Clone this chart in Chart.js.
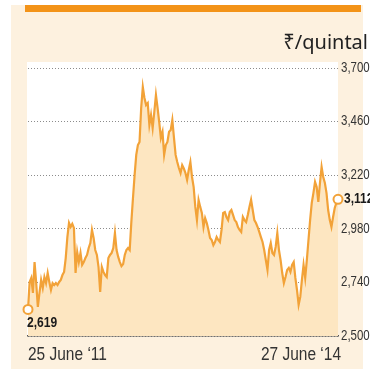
<!DOCTYPE html>
<html>
<head>
<meta charset="utf-8">
<script src="https://cdn.jsdelivr.net/npm/chart.js@4"></script>
<style>
  html, body { margin: 0; padding: 0; background: #fff; }
  #wrap { width: 370px; height: 369px; }
</style>
</head>
<body>
<div id="wrap"><canvas id="priceChart" width="370" height="369"></canvas></div>
<script>
// weekly price, Rs per quintal
const prices = [
  2619, 2742, 2760, 2693, 2831, 2737, 2630, 2693, 2751, 2715,
  2764, 2737, 2782, 2742, 2706, 2737, 2728, 2737, 2728, 2742,
  2751, 2773, 2787, 2849, 2943, 3006, 2988, 3002, 2984, 2782,
  2876, 2831, 2872, 2818, 2831, 2849, 2863, 2894, 2916, 2975,
  2939, 2885, 2863, 2809, 2697, 2809, 2787, 2773, 2764, 2849,
  2863, 2872, 2894, 2961, 2885, 2854, 2831, 2813, 2822, 2863,
  2885, 2894, 2885, 3010, 3118, 3221, 3311, 3355, 3369, 3521,
  3615, 3566, 3534, 3543, 3445, 3490, 3431, 3503, 3579, 3521,
  3458, 3387, 3414, 3311, 3355, 3369, 3414, 3422, 3467, 3387,
  3311, 3279, 3252, 3230, 3265, 3250, 3230, 3199, 3243, 3279,
  3212, 3167, 3078, 3019, 3109, 3078, 3051, 2988, 3028, 3006,
  2975, 2939, 2930, 2907, 2921, 2943, 2930, 2921, 2975, 3051,
  3055, 3033, 3019, 3055, 3064, 3042, 3019, 3010, 2988, 2975,
  2966, 3033, 3019, 3010, 3042, 3078, 3110, 3064, 3019, 3006,
  2988, 2966, 2943, 2921, 2885, 2840, 2796, 2885, 2916, 2872,
  2863, 2899, 2961, 2885, 2840, 2782, 2737, 2764, 2796, 2805,
  2787, 2818, 2831, 2760, 2706, 2640, 2675, 2751, 2818, 2760,
  2840, 2930, 3019, 3096, 3140, 3190, 3167, 3100, 3185, 3257,
  3212, 3185, 3140, 3064, 3019, 2988, 3033, 3073, 3096, 3112
];
const weeks = prices.map((p, i) => i);
const dateLabels = ['25 June \u201811', '27 June \u201814'];
const yTicks = [2500, 2740, 2980, 3220, 3460, 3700];
const unitLabel = '\u20b9/quintal';

const ORANGE = '#f2a238';
const SANS = "'Liberation Sans', Arial, sans-serif";

// no condensed face installed, so squeeze the text a bit
function narrowText(c, txt, x, y, font, squeeze, align) {
  c.save();
  c.font = font;
  c.textAlign = align;
  c.translate(x, y);
  c.scale(squeeze, 1);
  c.fillText(txt, 0, 0);
  c.restore();
}

// cream panel, orange strip, white plot box, then texts on top
const decor = {
  id: 'decor',
  beforeDraw(chart) {
    const c = chart.ctx, a = chart.chartArea;
    c.save();
    c.fillStyle = '#fdf1df';
    c.fillRect(11, 5, 352, 364);
    c.fillStyle = '#f39318';
    c.fillRect(25, 5, 336, 7);
    c.fillStyle = '#ffffff';
    c.fillRect(a.left - 1, 62, a.right - a.left + 1, a.bottom - 62);
    c.restore();
  },
  afterDraw(chart) {
    const c = chart.ctx, a = chart.chartArea;
    const x = chart.scales.x, y = chart.scales.y;
    const last = prices.length - 1;
    c.save();
    c.fillStyle = '#222';
    c.font = "20px 'Noto Sans', sans-serif";
    c.textAlign = 'right';
    c.textBaseline = 'alphabetic';
    c.fillText(unitLabel, 368, 49);

    c.textBaseline = 'middle';
    c.fillStyle = '#333';
    yTicks.forEach(v => {
      narrowText(c, v.toLocaleString('en-US'), a.right + 3, y.getPixelForValue(v), '14px ' + SANS, 0.82, 'left');
    });

    c.textBaseline = 'alphabetic';
    narrowText(c, dateLabels[0], a.left, 360, '18px ' + SANS, 0.86, 'left');
    narrowText(c, dateLabels[1], a.right + 3, 360, '18px ' + SANS, 0.86, 'right');

    c.fillStyle = '#1a1a1a';
    c.textBaseline = 'middle';
    narrowText(c, prices[0].toLocaleString('en-US'), x.getPixelForValue(0) - 1, y.getPixelForValue(prices[0]) + 14, 'bold 14px ' + SANS, 0.86, 'left');
    narrowText(c, prices[last].toLocaleString('en-US'), x.getPixelForValue(last) + 6, y.getPixelForValue(prices[last]), 'bold 14px ' + SANS, 0.86, 'left');
    c.restore();
  }
};

new Chart(document.getElementById('priceChart'), {
  type: 'line',
  data: {
    labels: weeks,
    datasets: [{
      data: prices,
      borderColor: ORANGE,
      borderWidth: 2.2,
      backgroundColor: '#fde6c1',
      fill: 'start',
      tension: 0,
      pointRadius: ctx => (ctx.dataIndex === 0 || ctx.dataIndex === prices.length - 1) ? 4.5 : 0,
      pointBackgroundColor: '#ffffff',
      pointBorderColor: ORANGE,
      pointBorderWidth: 2
    }]
  },
  options: {
    responsive: false,
    animation: false,
    layout: { padding: { left: 28, top: 68, right: 0, bottom: 0 } },
    plugins: { legend: { display: false }, tooltip: { enabled: false } },
    scales: {
      x: {
        offset: false,
        grid: { display: false },
        border: { display: true, color: '#555', width: 1.5 },
        afterFit: s => { s.height = 33; },
        ticks: { display: false }
      },
      y: {
        position: 'right',
        min: 2500,
        max: 3700,
        afterFit: s => { s.width = 32; },
        afterBuildTicks: s => { s.ticks = yTicks.map(v => ({ value: v })); },
        grid: { color: '#8c8c8c', lineWidth: 1, drawTicks: false },
        border: { display: false, dash: [1, 2] },
        ticks: { display: false }
      }
    }
  },
  plugins: [decor]
});
</script>
</body>
</html>
